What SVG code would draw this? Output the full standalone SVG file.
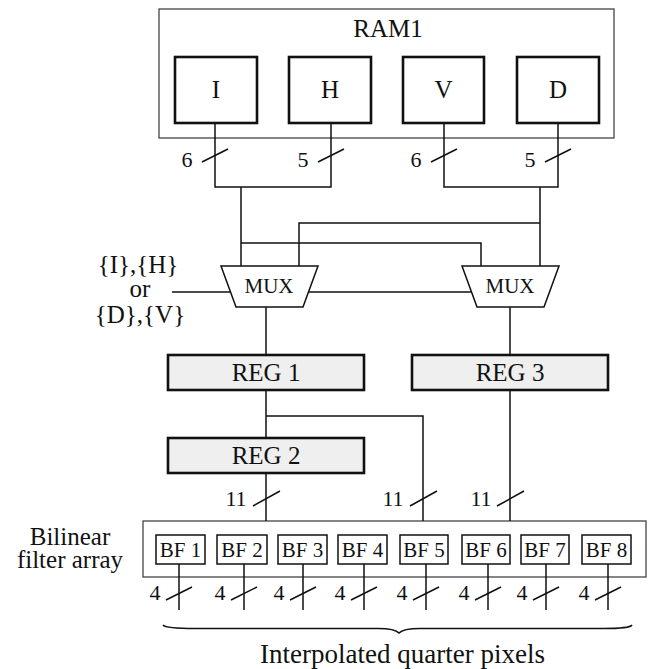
<svg xmlns="http://www.w3.org/2000/svg" width="649" height="669" viewBox="0 0 649 669">
<style>
text{font-family:"Liberation Serif","Times New Roman",serif;fill:#111;text-anchor:middle}
.big{font-size:25px}
.mid{font-size:22px}
.sm{font-size:21px}
.outer{fill:#fff;stroke:#444;stroke-width:1.3}
.blk{fill:#fff;stroke:#111;stroke-width:2.6}
.reg{fill:#efefef;stroke:#111;stroke-width:2.6}
.bf{fill:#fff;stroke:#111;stroke-width:1.5}
.mux{fill:#fff;stroke:#111;stroke-width:1.5}
.w{fill:none;stroke:#111;stroke-width:1.5}
</style>
<g id="ram1">
<rect class="outer" x="159" y="9" width="455" height="129"/>
<text class="big" x="388" y="37">RAM1</text>
</g>
<g id="blockI"><rect class="blk" x="175" y="57" width="82" height="66"/><text class="big" x="216" y="98">I</text></g>
<g id="blockH"><rect class="blk" x="289" y="57" width="82" height="66"/><text class="big" x="330" y="98">H</text></g>
<g id="blockV"><rect class="blk" x="403" y="57" width="81" height="66"/><text class="big" x="443.5" y="98">V</text></g>
<g id="blockD"><rect class="blk" x="517" y="57" width="82" height="66"/><text class="big" x="558" y="98">D</text></g>
<g id="mux1"><polygon class="mux" points="221,266 318,266 303,307 236,307"/><text class="sm" x="269" y="293">MUX</text></g>
<g id="mux2"><polygon class="mux" points="462,266 559,266 544,307 477,307"/><text class="sm" x="510" y="293">MUX</text></g>
<g id="reg1"><rect class="reg" x="168" y="355" width="196" height="35"/><text class="big" x="266" y="381">REG 1</text></g>
<g id="reg3"><rect class="reg" x="412" y="355" width="196" height="35"/><text class="big" x="510" y="381">REG 3</text></g>
<g id="reg2"><rect class="reg" x="168" y="438" width="196" height="35"/><text class="big" x="266" y="464">REG 2</text></g>
<g id="bfarray">
<rect class="outer" x="143" y="521" width="503" height="56"/>
<text class="big" x="70" y="545">Bilinear</text>
<text class="big" x="70" y="568">filter array</text>
</g>
<g id="bf1"><rect class="bf" x="156" y="535" width="49" height="29"/><text class="sm" x="180.5" y="557">BF 1</text></g>
<g id="bf2"><rect class="bf" x="217" y="535" width="50" height="29"/><text class="sm" x="242" y="557">BF 2</text></g>
<g id="bf3"><rect class="bf" x="278" y="535" width="49" height="29"/><text class="sm" x="302.5" y="557">BF 3</text></g>
<g id="bf4"><rect class="bf" x="338" y="535" width="49" height="29"/><text class="sm" x="362.5" y="557">BF 4</text></g>
<g id="bf5"><rect class="bf" x="400" y="535" width="48" height="29"/><text class="sm" x="424" y="557">BF 5</text></g>
<g id="bf6"><rect class="bf" x="462" y="535" width="48" height="29"/><text class="sm" x="486" y="557">BF 6</text></g>
<g id="bf7"><rect class="bf" x="521" y="535" width="48" height="29"/><text class="sm" x="545" y="557">BF 7</text></g>
<g id="bf8"><rect class="bf" x="582" y="535" width="49" height="29"/><text class="sm" x="606.5" y="557">BF 8</text></g>
<g id="sel">
<text class="big" x="138" y="273">{I},{H}</text>
<text class="big" x="140" y="297">or</text>
<text class="big" x="140" y="323">{D},{V}</text>
</g>
<g id="connectors" class="w">
<path class="w" d="M215,123V187H331V123M241,187V266"/>
<path class="w" d="M444,123V187H558V123M540,187V266"/>
<path class="w" d="M299,266V223H540M241,243H481V266"/>
<path class="w" d="M172,292H230.5M308.5,292H471.5"/>
<path class="w" d="M266,307V355M510,307V355"/>
<path class="w" d="M266,390V438M266,416H423V521M266,473V521M510,390V521"/>
<path class="w" d="M179,564V610M244,564V610M303,564V610M364,564V610M426,564V610M488,564V610M546,564V610M608,564V610"/>
<path class="w" d="M202,162L228,149M318,162L344,149M431,162L457,149M545,162L571,149"/>
<path class="w" d="M253,506L280,491M410,506L437,491M497,506L524,491"/>
<path class="w" d="M166,600L192,587M231,600L257,587M290,600L316,587M351,600L377,587M413,600L439,587M475,600L501,587M533,600L559,587M595,600L621,587"/>
<path d="M163,625Q166,628.5 195,628.5L378,628.5Q395,628.5 399,633Q403,628.5 420,628.5L603,628.5Q630,628.5 632,625" fill="none" stroke="#111" stroke-width="1.6"/>
</g>
<g id="labels">
<text class="mid" x="187" y="167">6</text>
<text class="mid" x="303" y="167">5</text>
<text class="mid" x="416" y="167">6</text>
<text class="mid" x="530" y="167">5</text>
<text class="mid" x="236" y="506">11</text>
<text class="mid" x="393" y="506">11</text>
<text class="mid" x="481" y="506">11</text>
<text class="mid" x="155" y="600">4</text>
<text class="mid" x="220" y="600">4</text>
<text class="mid" x="279" y="600">4</text>
<text class="mid" x="340" y="600">4</text>
<text class="mid" x="402" y="600">4</text>
<text class="mid" x="464" y="600">4</text>
<text class="mid" x="522" y="600">4</text>
<text class="mid" x="584" y="600">4</text>
<text style="font-size:27px" x="402.5" y="663">Interpolated quarter pixels</text>
</g>
</svg>
